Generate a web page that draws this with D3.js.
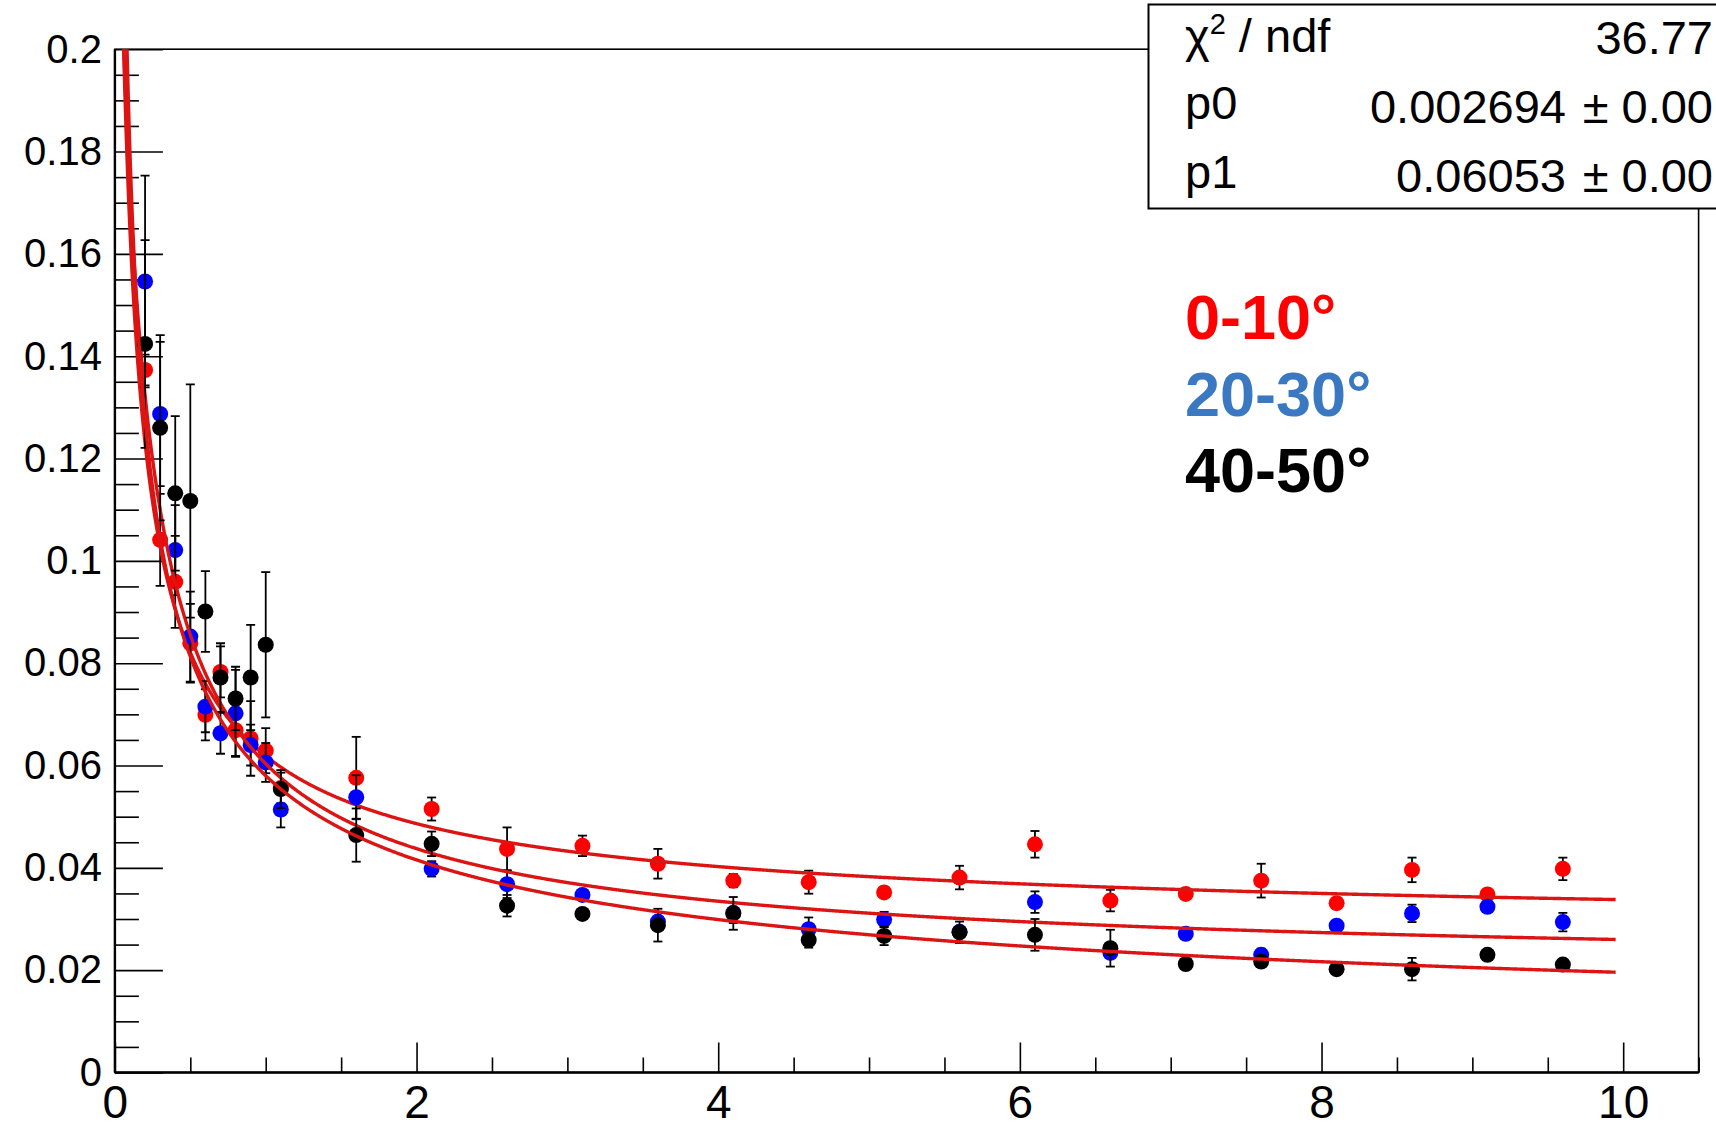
<!DOCTYPE html>
<html>
<head>
<meta charset="utf-8">
<script src="https://cdn.jsdelivr.net/npm/d3@7"></script>
<style>
  html, body { margin: 0; padding: 0; background: #ffffff; }
  svg { display: block; }
  text { font-family: "Liberation Sans", Arial, Helvetica, sans-serif; }
</style>
</head>
<body>
<script>
// ---------------- data ----------------
const xValues = [0.2, 0.3, 0.4, 0.5, 0.6, 0.7, 0.8, 0.9, 1.0, 1.1, 1.6, 2.1, 2.6, 3.1, 3.6, 4.1, 4.6, 5.1, 5.6, 6.1, 6.6, 7.1, 7.6, 8.1, 8.6, 9.1, 9.6];

const seriesNames = ["0-10°", "20-30°", "40-50°"];

const values0to10 = [0.1373, 0.1041, 0.0959, 0.0839, 0.0699, 0.0783, 0.0669, 0.0653, 0.0629, 0.0556, 0.0576, 0.0515, 0.0437, 0.0443, 0.0408, 0.0375, 0.0372, 0.0352, 0.0381, 0.0446, 0.0336, 0.0349, 0.0375, 0.0331, 0.0396, 0.0348, 0.0398];
const errors0to10 = [0.0030, 0.0090, 0.0090, 0.0077, 0.0050, 0.0050, 0.0050, 0.0073, 0.0044, 0.0030, 0.0080, 0.00225, 0.0042, 0.0020, 0.0029, 0.0013, 0.00225, 0.0010, 0.0023, 0.0026, 0.0021, 0.0010, 0.0033, 0.0010, 0.0024, 0.0010, 0.0022];

const values20to30 = [0.1546, 0.1287, 0.1021, 0.0852, 0.0715, 0.0663, 0.0702, 0.0640, 0.0606, 0.0514, 0.0538, 0.0398, 0.0368, 0.0347, 0.0295, 0.0312, 0.0280, 0.0299, 0.0275, 0.0333, 0.0234, 0.0271, 0.0230, 0.0287, 0.0311, 0.0324, 0.0294];
const errors20to30 = [0.0207, 0.0141, 0.0088, 0.0088, 0.0050, 0.0040, 0.0085, 0.0040, 0.0038, 0.0035, 0.0043, 0.0015, 0.0027, 0.0010, 0.0010, 0.0020, 0.0023, 0.0015, 0.0010, 0.0021, 0.0010, 0.0010, 0.0012, 0.0010, 0.0017, 0.0010, 0.0018];

const values40to50 = [0.1424, 0.1260, 0.1132, 0.1117, 0.0901, 0.0772, 0.0731, 0.0772, 0.0836, 0.0554, 0.0464, 0.0447, 0.0326, 0.0310, 0.0288, 0.0311, 0.0259, 0.0267, 0.0274, 0.0269, 0.0243, 0.0212, 0.0217, 0.0202, 0.0202, 0.0230, 0.0211];
const errors40to50 = [0.0203, 0.0181, 0.0151, 0.0228, 0.0079, 0.0067, 0.0062, 0.0103, 0.0142, 0.0037, 0.0052, 0.0024, 0.0021, 0.0010, 0.0032, 0.0032, 0.0015, 0.0018, 0.0021, 0.0031, 0.0036, 0.0010, 0.0010, 0.0010, 0.0022, 0.0010, 0.0010];

// fit curves f(x) = a + b * (x + d)^(-c), one per series
const fitA = [0.0265, 0.01885, 0.00177];
const fitB = [0.03659, 0.04537, 0.05624];
const fitC = [0.7, 0.8, 0.5];
const fitD = [0.05, 0.118, 0.0];
const fitRange = [0.005, 9.95];

// axis ticks
const xMajorTicks = [0, 2, 4, 6, 8, 10];
const yMajorTicks = [0, 0.02, 0.04, 0.06, 0.08, 0.1, 0.12, 0.14, 0.16, 0.18, 0.2];
const yTickLabels = ["0", "0.02", "0.04", "0.06", "0.08", "0.1", "0.12", "0.14", "0.16", "0.18", "0.2"];

// stats box
const statNames = ["p0", "p1"];
const statValues = ["0.002694", "0.06053"];
const chi2Value = "36.77";

// ---------------- drawing ----------------
const W = 1716, H = 1132;
const markerColors = ["#ff0000", "#0000ff", "#000000"];
const labelColors = ["#ff0000", "#3a78c2", "#000000"];
const curveColor = "#dc1414";

const svg = d3.select("body").append("svg").attr("width", W).attr("height", H);
svg.append("rect").attr("width", W).attr("height", H).attr("fill", "#ffffff");

const x = d3.scaleLinear().domain([0, 10.5]).range([114.9, 1698.6]);
const y = d3.scaleLinear().domain([0, 0.2]).range([1072.5, 49.2]);

svg.append("defs").append("clipPath").attr("id", "frameClip")
  .append("rect")
  .attr("x", x(0)).attr("y", y(0.2))
  .attr("width", x(10.5) - x(0)).attr("height", y(0) - y(0.2));

// x axis (ticks pointing up into frame)
const xMinor = d3.range(0, 10.51, 0.5).filter(v => Math.abs(v / 2 - Math.round(v / 2)) > 1e-6);
const gxMinor = svg.append("g").attr("transform", `translate(0,${y(0)})`)
  .call(d3.axisBottom(x).tickValues(xMinor).tickSize(-15).tickFormat(""));
const gx = svg.append("g").attr("transform", `translate(0,${y(0)})`)
  .call(d3.axisBottom(x).tickValues(xMajorTicks).tickSize(-30).tickPadding(13).tickFormat(d3.format("d")));
[gx, gxMinor].forEach(g => {
  g.select(".domain").remove();
  g.selectAll(".tick line").attr("stroke", "#000").attr("stroke-width", 1.6);
});
gx.selectAll(".tick text").attr("font-size", 46).attr("fill", "#000")
  .attr("font-family", "'Liberation Sans', Arial, Helvetica, sans-serif");

// y axis (ticks pointing right into frame)
const yMinor = d3.range(0, 0.2001, 0.005).filter(v => Math.abs(v / 0.02 - Math.round(v / 0.02)) > 1e-6);
const gyMinor = svg.append("g").attr("transform", `translate(${x(0)},0)`)
  .call(d3.axisLeft(y).tickValues(yMinor).tickSize(-24).tickFormat(""));
const gy = svg.append("g").attr("transform", `translate(${x(0)},0)`)
  .call(d3.axisLeft(y).tickValues(yMajorTicks).tickSize(-48).tickPadding(13)
    .tickFormat((d, i) => yTickLabels[i]));
[gy, gyMinor].forEach(g => {
  g.select(".domain").remove();
  g.selectAll(".tick line").attr("stroke", "#000").attr("stroke-width", 1.6);
});
gy.selectAll(".tick text").attr("font-size", 40).attr("fill", "#000")
  .attr("font-family", "'Liberation Sans', Arial, Helvetica, sans-serif");

// frame
svg.append("rect")
  .attr("x", x(0)).attr("y", y(0.2))
  .attr("width", x(10.5) - x(0)).attr("height", y(0) - y(0.2))
  .attr("fill", "none").attr("stroke", "#000").attr("stroke-width", 1.6);
svg.append("line").attr("x1", x(0)).attr("x2", x(0)).attr("y1", y(0)).attr("y2", y(0.2))
  .attr("stroke", "#000").attr("stroke-width", 2.4);
svg.append("line").attr("x1", x(0)).attr("x2", x(10.5)).attr("y1", y(0)).attr("y2", y(0))
  .attr("stroke", "#000").attr("stroke-width", 2.4);

// series
const allValues = [values0to10, values20to30, values40to50];
const allErrors = [errors0to10, errors20to30, errors40to50];
const plot = svg.append("g").attr("clip-path", "url(#frameClip)");
const capHalf = 4.5;

allValues.forEach((vals, s) => {
  const pts = xValues.map((xv, i) => ({ x: xv, y: vals[i], e: allErrors[s][i] }));
  const g = plot.append("g");
  // error bars
  const eb = g.selectAll("g.eb").data(pts).enter().append("g").attr("class", "eb");
  eb.append("line")
    .attr("x1", d => x(d.x)).attr("x2", d => x(d.x))
    .attr("y1", d => y(d.y + d.e)).attr("y2", d => y(d.y - d.e))
    .attr("stroke", "#000").attr("stroke-width", 1.8);
  eb.append("line")
    .attr("x1", d => x(d.x) - capHalf).attr("x2", d => x(d.x) + capHalf)
    .attr("y1", d => y(d.y + d.e)).attr("y2", d => y(d.y + d.e))
    .attr("stroke", "#000").attr("stroke-width", 1.8);
  eb.append("line")
    .attr("x1", d => x(d.x) - capHalf).attr("x2", d => x(d.x) + capHalf)
    .attr("y1", d => y(d.y - d.e)).attr("y2", d => y(d.y - d.e))
    .attr("stroke", "#000").attr("stroke-width", 1.8);
  // markers
  g.selectAll("circle").data(pts).enter().append("circle")
    .attr("cx", d => x(d.x)).attr("cy", d => y(d.y)).attr("r", 8)
    .attr("fill", markerColors[s]);
  // fit curve
  const f = xv => fitA[s] + fitB[s] * Math.pow(xv + fitD[s], -fitC[s]);
  const samples = d3.range(fitRange[0], fitRange[1] + 1e-9, 0.005).map(xv => [xv, Math.min(f(xv), 0.25)]);
  g.append("path").datum(samples)
    .attr("d", d3.line().x(d => x(d[0])).y(d => y(d[1])))
    .attr("fill", "none").attr("stroke", curveColor).attr("stroke-width", 3.4);
});

// series labels
const labelBaselines = [339, 416, 492];
seriesNames.forEach((name, i) => {
  svg.append("text").attr("x", 1185).attr("y", labelBaselines[i])
    .attr("font-size", 63).attr("font-weight", "bold").attr("fill", labelColors[i])
    .text(name);
});

// stats box
svg.append("rect").attr("x", 1148.5).attr("y", 4.5).attr("width", 620).attr("height", 204)
  .attr("fill", "#ffffff").attr("stroke", "#000").attr("stroke-width", 2);
const statFont = 47;
const chi = svg.append("text").attr("x", 1185).attr("y", 52).attr("font-size", statFont).attr("fill", "#000");
chi.append("tspan").text("χ");
chi.append("tspan").attr("font-size", 29).attr("dy", -18).text("2");
chi.append("tspan").attr("dy", 18).text(" / ndf");
svg.append("text").attr("x", 1713).attr("y", 54).attr("text-anchor", "end")
  .attr("font-size", statFont).attr("fill", "#000").text(chi2Value);
statNames.forEach((n, i) => {
  const base = 123 + i * 69;
  svg.append("text").attr("x", 1185).attr("y", base - 4).attr("font-size", statFont).attr("fill", "#000").text(n);
  svg.append("text").attr("x", 1566).attr("y", base).attr("text-anchor", "end")
    .attr("font-size", statFont).attr("fill", "#000").text(statValues[i]);
  svg.append("text").attr("x", 1713).attr("y", base).attr("text-anchor", "end")
    .attr("font-size", statFont).attr("fill", "#000").text("± 0.00");
});
</script>
</body>
</html>
